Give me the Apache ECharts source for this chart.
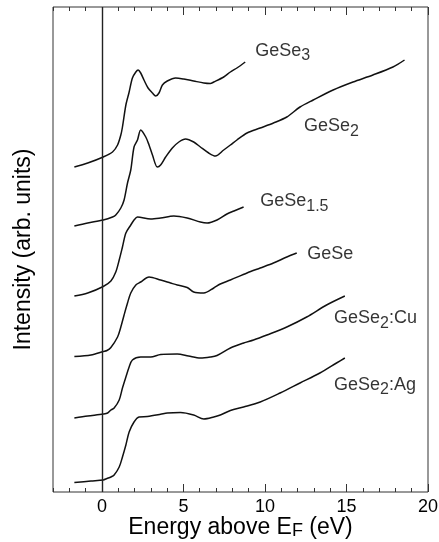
<!DOCTYPE html>
<html>
<head>
<meta charset="utf-8">
<script src="https://cdn.jsdelivr.net/npm/echarts@6/dist/echarts.min.js"></script>
<style>
html,body{margin:0;padding:0;background:#fff;}
#c{width:439px;height:542px;}
</style>
</head>
<body>
<div id="c"></div>
<script>
// Energy above EF (eV), intensity (arb. units, offset stacked)
const GeSe3 = [[-1.69,325],[-0.87,329],[0.08,335],[0.65,340],[0.96,347],[1.16,357],[1.26,365],[1.47,387],[1.67,400],[1.87,414],[2.08,420],[2.22,422],[2.38,419],[2.58,412],[2.83,404],[3.10,399],[3.30,396],[3.50,399],[3.71,407],[4.01,411],[4.52,414],[5.02,413],[5.63,411],[6.25,409],[6.65,408.5],[6.86,410],[7.47,415],[7.88,420],[8.28,424],[8.79,430]];
const GeSe2 = [[-1.69,266],[-0.87,269],[0.08,272],[0.65,275],[0.85,277],[1.16,284],[1.36,292],[1.57,309],[1.77,322],[1.97,345],[2.18,352],[2.38,362],[2.69,355],[2.89,347],[3.10,337],[3.40,325],[3.60,327],[3.91,335],[4.32,344],[4.72,350],[5.13,353],[5.63,350],[6.04,345],[6.55,339],[6.96,336],[7.47,342],[7.88,347],[8.28,352],[8.90,359],[9.71,364],[10.52,369],[11.34,375],[12.15,385],[12.96,392],[14.18,402],[15.40,410],[16.62,417],[17.85,425],[18.56,432]];
const GeSe15 = [[-1.69,196],[-0.87,199],[0.08,205.5],[0.55,211],[0.85,220],[1.06,232],[1.26,245],[1.47,259],[1.77,267],[1.97,272],[2.18,275],[2.99,273],[3.60,274],[4.41,276],[5.23,274],[6.04,270],[6.45,269],[7.06,272],[7.67,278],[8.10,281],[8.69,285]];
const GeSe = [[-1.69,135.5],[-0.67,137],[0.08,140.5],[0.31,141.5],[0.55,144.5],[0.96,155],[1.16,165],[1.36,177],[1.57,189],[1.77,199],[2.08,207],[2.38,210],[2.89,215],[3.60,212],[4.21,209],[4.62,207],[5.23,204.5],[5.63,200],[6.25,199],[6.86,204],[7.26,208],[7.88,212],[8.90,219],[9.71,224],[10.52,229],[11.34,235],[11.95,239]];
const GeSe2Cu = [[-1.69,74],[-0.87,76],[0.08,78],[0.35,79],[0.55,82],[0.75,84],[1.06,92],[1.26,104],[1.47,115],[1.67,125],[1.87,132],[2.38,135],[2.99,135],[3.60,137.5],[4.62,138],[5.31,136],[6.04,134],[6.65,135],[7.06,136.5],[7.88,144],[8.69,149],[9.30,152],[10.12,157],[11.34,165],[12.56,175],[13.78,187],[14.90,196]];
const GeSe2Ag = [[-1.69,9.5],[-0.67,11],[0.08,12],[0.31,13.5],[0.55,15],[0.75,17],[1.06,25],[1.26,35],[1.47,47],[1.67,60],[1.97,70],[2.28,75],[2.79,75.5],[3.60,77.7],[4.01,79],[4.82,79.5],[5.63,77],[6.25,73],[6.86,75],[7.26,77],[7.88,81.5],[8.69,85],[9.71,90],[10.93,99],[12.15,109],[13.37,119],[14.39,129],[14.90,134]];

const curveNames = ['GeSe3','GeSe2','GeSe1.5','GeSe','GeSe2:Cu','GeSe2:Ag'];
const curveData = [GeSe3, GeSe2, GeSe15, GeSe, GeSe2Cu, GeSe2Ag];
// label text (rich) and anchor positions in data coords
const labelTexts = ['{a|GeSe}{b|3}','{a|GeSe}{b|2}','{a|GeSe}{b|1.5}','{a|GeSe}','{a|GeSe}{b|2}{a|:Cu}','{a|GeSe}{b|2}{a|:Ag}'];
const labelPos = [[9.40,439],[12.39,363.5],[9.71,288.5],[12.59,237.5],[14.24,171.7],[14.24,105]];

const xMajor = [0,5,10,15,20];

const chart = echarts.init(document.getElementById('c'), null, {renderer:'canvas'});
const font = '"Liberation Sans", Arial, Helvetica, sans-serif';
const ink = '#000';

const series = curveData.map((d,i)=>({
  type:'line', name:curveNames[i], data:d, xAxisIndex:0, yAxisIndex:0,
  smooth:0.3, showSymbol:false, symbol:'none',
  lineStyle:{color:'#111', width:1.5}, silent:true
}));
series[0].markLine = {
  silent:true, symbol:'none', label:{show:false},
  lineStyle:{color:'#222', width:1.4, type:'solid'},
  data:[{xAxis:0}]
};
series.push({
  type:'scatter', xAxisIndex:0, yAxisIndex:0, symbolSize:0, silent:true,
  data: labelPos.map((p,i)=>({value:p, label:{formatter:labelTexts[i]}})),
  label:{
    show:true, position:'right', distance:0, color:ink, fontFamily:font,
    rich:{
      a:{fontSize:18, lineHeight:18, verticalAlign:'top', fontFamily:font, color:ink},
      b:{fontSize:16, lineHeight:22, verticalAlign:'bottom', fontFamily:font, color:ink}
    }
  }
});

function xAx(pos, major, showLabel){
  const o = {
    type:'value', position:pos, min:-3, max:20, gridIndex:0,
    axisLine:{show:false}, splitLine:{show:false},
    axisTick:{show:true, inside:true, length: major?8:4, lineStyle:{color:'#333', width:1}},
    axisLabel:{show:false}
  };
  if (major) {
    o.axisTick.customValues = xMajor;
    o.axisLabel = {show:showLabel, customValues:xMajor, fontSize:18, color:ink, fontFamily:font, margin:6};
  } else {
    o.interval = 1;
  }
  return o;
}
const xa0 = xAx('bottom', true, true);
xa0.name = '{a|Energy above E}{b|F}{a| (eV)}';
xa0.nameLocation = 'middle';
xa0.nameGap = 24;
xa0.nameMoveOverlap = false;
xa0.nameTextStyle = {
  fontFamily:font, color:ink,
  rich:{
    a:{fontSize:23, lineHeight:23, verticalAlign:'top', fontFamily:font, color:ink},
    b:{fontSize:18, lineHeight:24, verticalAlign:'bottom', fontFamily:font, color:ink}
  }
};

chart.setOption({
  animation:false,
  backgroundColor:'#fff',
  grid:{left:53, right:11, top:7, bottom:50, outerBoundsMode:'none', containLabel:false, show:true, borderColor:'#333', borderWidth:1, backgroundColor:'transparent'},
  xAxis:[xa0, xAx('bottom', false), xAx('top', true, false), xAx('top', false)],
  yAxis:{
    type:'value', min:0, max:485,
    axisLine:{show:false}, axisTick:{show:false}, axisLabel:{show:false}, splitLine:{show:false},
    name:'Intensity (arb. units)', nameLocation:'middle', nameGap:18, nameMoveOverlap:false,
    nameTextStyle:{fontSize:23, fontFamily:font, color:ink}
  },
  series: series
});
</script>
</body>
</html>
